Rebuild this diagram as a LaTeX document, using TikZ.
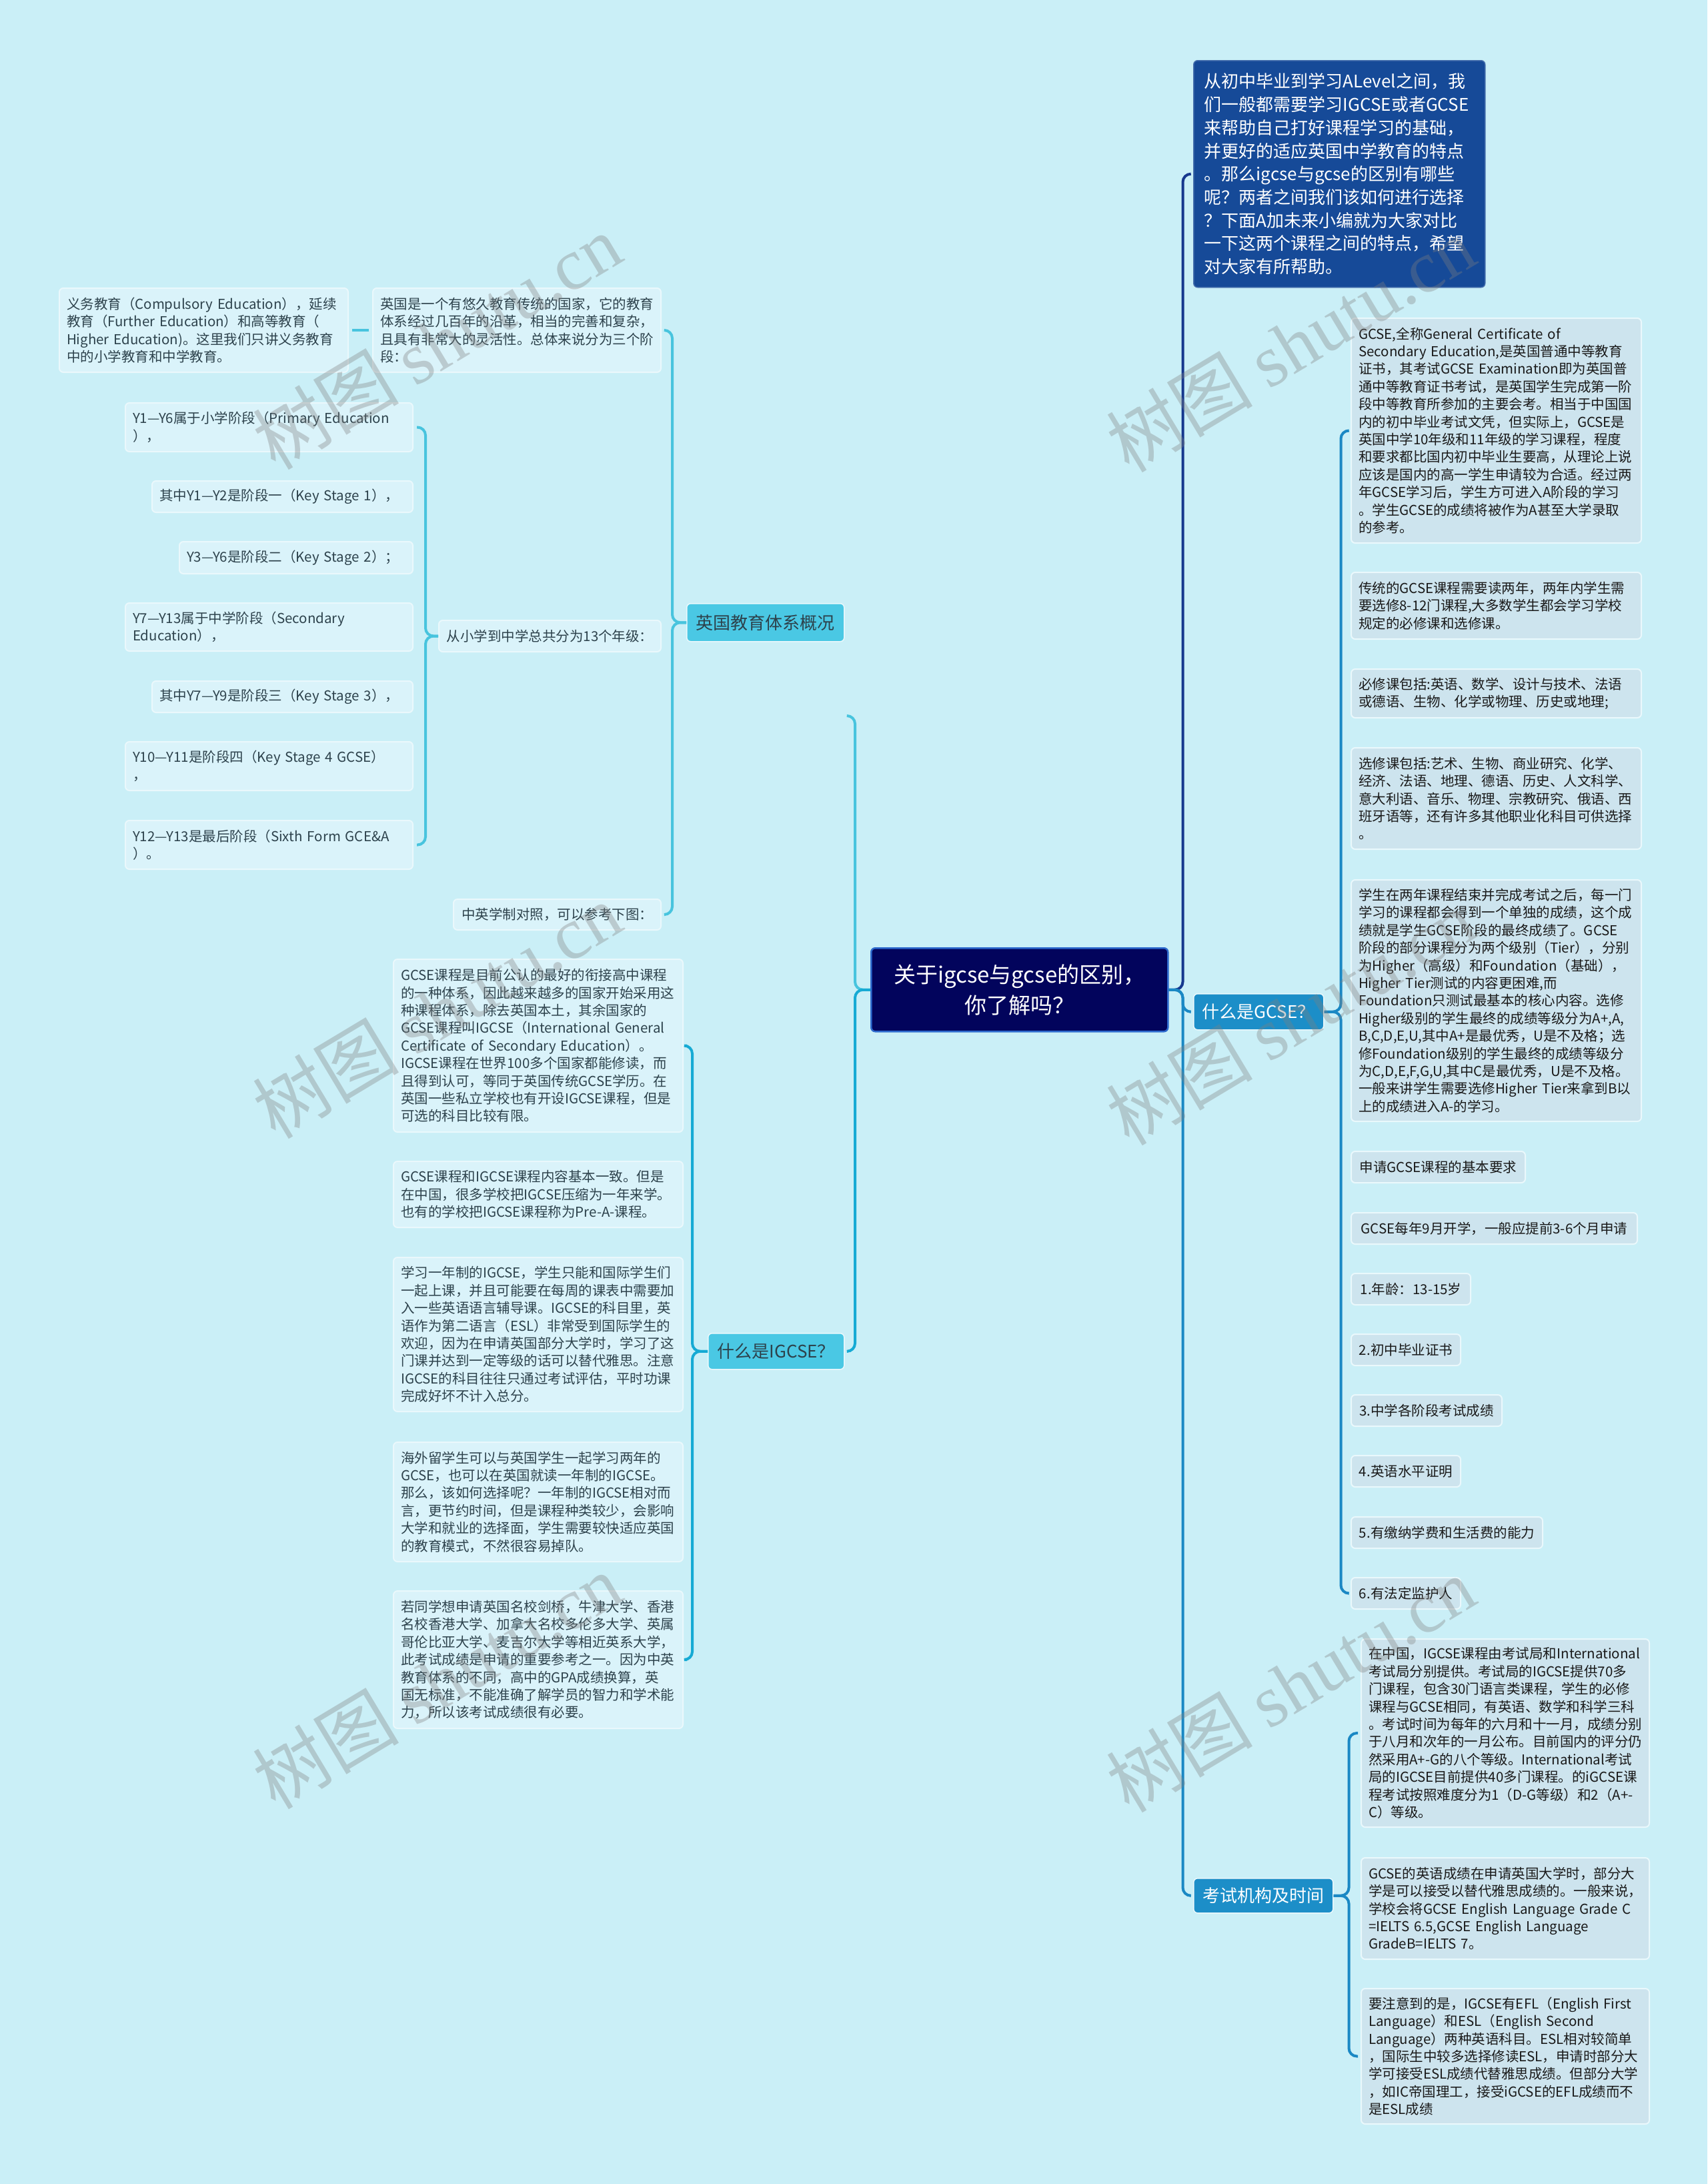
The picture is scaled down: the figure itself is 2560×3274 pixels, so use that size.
\documentclass[tikz,border=0pt]{standalone}
\usepackage{fontspec}
\setmainfont{Noto Sans CJK SC}
\newfontfamily\wmserif{Liberation Serif}
\usetikzlibrary{positioning}
\definecolor{bgcyan}{RGB}{202,239,247}
\definecolor{rootnavy}{RGB}{2,4,92}
\definecolor{rootedge}{RGB}{45,105,205}
\definecolor{introblue}{RGB}{22,74,152}
\definecolor{branchblue}{RGB}{28,142,200}
\definecolor{branchcyan}{RGB}{74,200,228}
\definecolor{leafRfill}{RGB}{205,228,238}
\definecolor{leafLfill}{RGB}{218,243,250}
\definecolor{leafedge}{RGB}{234,248,252}
\definecolor{leafLtext}{RGB}{45,66,76}
\definecolor{leafRtext}{RGB}{25,25,25}
\definecolor{lineNavy}{RGB}{22,56,142}
\definecolor{lineBlue}{RGB}{26,136,196}
\definecolor{lineCyan}{RGB}{72,196,222}
\definecolor{lineDeep}{RGB}{22,170,212}
\newcommand{\leaffont}{\fontsize{20.5pt}{26.4pt}\selectfont}

\begin{document}
\begin{tikzpicture}[x=1pt, y=-1pt,
  every node/.style={anchor=north west, rounded corners=6pt, inner xsep=11pt, inner ysep=0pt, align=left},
  leafL/.style={draw=leafedge, line width=2pt, fill=leafLfill, text=leafLtext, font=\leaffont},
  leafR/.style={draw=leafedge, line width=2pt, fill=leafRfill, text=leafRtext, font=\leaffont},
  branchL/.style={draw=leafedge, line width=1.5pt, fill=branchcyan, text=leafLtext, align=center, font=\fontsize{26pt}{32pt}\selectfont},
  branchR/.style={draw=leafedge, line width=1.5pt, fill=branchblue, text=white, align=center, font=\fontsize{26pt}{32pt}\selectfont},
  conn/.style={line width=4pt, rounded corners=12pt},
  wmark/.style={anchor=center, rotate=31, text=gray, opacity=0.35, inner sep=0pt, font=\fontsize{110pt}{110pt}\selectfont}]

  \fill[bgcyan] (0,0) rectangle (2560,3274);
  \useasboundingbox (0,0) rectangle (2560,3274);

  % root
  \node[draw=rootedge, line width=2.5pt, fill=rootnavy, text=white, align=center, minimum width=445pt, minimum height=125pt, font=\fontsize{33pt}{46pt}\selectfont] (root) at (1305,1420) {关于igcse与gcse的区别，\\你了解吗？};

  % right side
  \node[draw=introblue!80!white, line width=1.5pt, fill=introblue, text=white, inner xsep=16pt, text width=405pt, minimum height=340pt, font=\fontsize{26pt}{34.7pt}\selectfont] (intro) at (1789,90) {从初中毕业到学习ALevel之间，我\\们一般都需要学习IGCSE或者GCSE\\来帮助自己打好课程学习的基础，\\并更好的适应英国中学教育的特点\\。那么igcse与gcse的区别有哪些\\呢？两者之间我们该如何进行选择\\？下面A加未来小编就为大家对比\\一下这两个课程之间的特点，希望\\对大家有所帮助。};
  \node[branchR, minimum width=195pt, minimum height=54pt] (gcse) at (1789,1489) {什么是GCSE？};
  \node[branchR, minimum width=209pt, minimum height=52pt] (exam) at (1789,2815) {考试机构及时间};

  \node[leafR, text width=413pt, minimum height=337pt] (g1) at (2025,476) {GCSE,全称General Certificate of\\Secondary Education,是英国普通中等教育\\证书，其考试GCSE Examination即为英国普\\通中等教育证书考试，是英国学生完成第一阶\\段中等教育所参加的主要会考。相当于中国国\\内的初中毕业考试文凭，但实际上，GCSE是\\英国中学10年级和11年级的学习课程，程度\\和要求都比国内初中毕业生要高，从理论上说\\应该是国内的高一学生申请较为合适。经过两\\年GCSE学习后，学生方可进入A阶段的学习\\。学生GCSE的成绩将被作为A甚至大学录取\\的参考。};
  \node[leafR, text width=413pt, minimum height=100pt] (g2) at (2025,857) {传统的GCSE课程需要读两年，两年内学生需\\要选修8-12门课程,大多数学生都会学习学校\\规定的必修课和选修课。};
  \node[leafR, text width=413pt, minimum height=73pt] (g3) at (2025,1002) {必修课包括:英语、数学、设计与技术、法语\\或德语、生物、化学或物理、历史或地理;};
  \node[leafR, text width=413pt, minimum height=152pt] (g4) at (2025,1120) {选修课包括:艺术、生物、商业研究、化学、\\经济、法语、地理、德语、历史、人文科学、\\意大利语、音乐、物理、宗教研究、俄语、西\\班牙语等，还有许多其他职业化科目可供选择\\。};
  \node[leafR, text width=413pt, minimum height=362pt] (g5) at (2025,1318) {学生在两年课程结束并完成考试之后，每一门\\学习的课程都会得到一个单独的成绩，这个成\\绩就是学生GCSE阶段的最终成绩了。GCSE\\阶段的部分课程分为两个级别（Tier），分别\\为Higher（高级）和Foundation（基础），\\Higher Tier测试的内容更困难,而\\Foundation只测试最基本的核心内容。选修\\Higher级别的学生最终的成绩等级分为A+,A,\\B,C,D,E,U,其中A+是最优秀，U是不及格；选\\修Foundation级别的学生最终的成绩等级分\\为C,D,E,F,G,U,其中C是最优秀，U是不及格。\\一般来讲学生需要选修Higher Tier来拿到B以\\上的成绩进入A-的学习。};
  \node[leafR, minimum width=261pt, minimum height=47pt] (r0) at (2025,1725) {申请GCSE课程的基本要求};
  \node[leafR, minimum width=429pt, minimum height=47pt] (r1) at (2025,1817) {GCSE每年9月开学，一般应提前3-6个月申请};
  \node[leafR, minimum width=179pt, minimum height=47pt] (a1) at (2025,1908) {1.年龄：13-15岁};
  \node[leafR, minimum width=164pt, minimum height=47pt] (a2) at (2025,1999) {2.初中毕业证书};
  \node[leafR, minimum width=226pt, minimum height=47pt] (a3) at (2025,2090) {3.中学各阶段考试成绩};
  \node[leafR, minimum width=164pt, minimum height=47pt] (a4) at (2025,2181) {4.英语水平证明};
  \node[leafR, minimum width=287pt, minimum height=47pt] (a5) at (2025,2273) {5.有缴纳学费和生活费的能力};
  \node[leafR, minimum width=164pt, minimum height=47pt] (a6) at (2025,2364) {6.有法定监护人};

  \node[leafR, text width=410pt, minimum height=282pt] (e1) at (2040,2456) {在中国，IGCSE课程由考试局和International\\考试局分别提供。考试局的IGCSE提供70多\\门课程，包含30门语言类课程，学生的必修\\课程与GCSE相同，有英语、数学和科学三科\\。考试时间为每年的六月和十一月，成绩分别\\于八月和次年的一月公布。目前国内的评分仍\\然采用A+-G的八个等级。International考试\\局的IGCSE目前提供40多门课程。的iGCSE课\\程考试按照难度分为1（D-G等级）和2（A+-\\C）等级。};
  \node[leafR, text width=410pt, minimum height=152pt] (e2) at (2040,2784) {GCSE的英语成绩在申请英国大学时，部分大\\学是可以接受以替代雅思成绩的。一般来说，\\学校会将GCSE English Language Grade C\\=IELTS 6.5,GCSE English Language\\GradeB=IELTS 7。};
  \node[leafR, text width=410pt, minimum height=203pt] (e3) at (2040,2980) {要注意到的是，IGCSE有EFL（English First\\Language）和ESL（English Second\\Language）两种英语科目。ESL相对较简单\\，国际生中较多选择修读ESL，申请时部分大\\学可接受ESL成绩代替雅思成绩。但部分大学\\，如IC帝国理工，接受iGCSE的EFL成绩而不\\是ESL成绩};

  % left side
  \node[branchL, minimum width=236pt, minimum height=57pt] (uk) at (1029,904) {英国教育体系概况};
  \node[branchL, minimum width=204pt, minimum height=54pt] (igcse) at (1061,1998) {什么是IGCSE？};

  \node[leafL, text width=411pt, minimum height=126pt] (duty) at (88,431) {义务教育（Compulsory Education），延续\\教育（Further Education）和高等教育（\\Higher Education)。这里我们只讲义务教育\\中的小学教育和中学教育。};
  \node[leafL, text width=410pt, minimum height=126pt] (ukdesc) at (558,431) {英国是一个有悠久教育传统的国家，它的教育\\体系经过几百年的沿革，相当的完善和复杂，\\且具有非常大的灵活性。总体来说分为三个阶\\段：};
  \node[leafL, minimum width=333pt, minimum height=47pt] (grades) at (657,929) {从小学到中学总共分为13个年级：};
  \node[leafL, minimum width=311pt, minimum height=46pt] (compare) at (679,1347) {中英学制对照，可以参考下图：};

  \node[leafL, text width=409pt, minimum height=73pt] (y1) at (187,603) {Y1—Y6属于小学阶段（Primary Education\\），};
  \node[leafL, text width=369pt, minimum height=47pt] (y2) at (227,720) {其中Y1—Y2是阶段一（Key Stage 1），};
  \node[leafL, text width=328pt, minimum height=48pt] (y3) at (268,811) {Y3—Y6是阶段二（Key Stage 2）；};
  \node[leafL, text width=409pt, minimum height=72pt] (y4) at (187,903) {Y7—Y13属于中学阶段（Secondary\\Education），};
  \node[leafL, text width=369pt, minimum height=47pt] (y5) at (227,1020) {其中Y7—Y9是阶段三（Key Stage 3），};
  \node[leafL, text width=409pt, minimum height=73pt] (y6) at (187,1111) {Y10—Y11是阶段四（Key Stage 4 GCSE）\\，};
  \node[leafL, text width=409pt, minimum height=73pt] (y7) at (187,1229) {Y12—Y13是最后阶段（Sixth Form GCE\&A\\）。};

  \node[leafL, text width=412pt, minimum height=259pt] (ig1) at (589,1437) {GCSE课程是目前公认的最好的衔接高中课程\\的一种体系，因此越来越多的国家开始采用这\\种课程体系，除去英国本土，其余国家的\\GCSE课程叫IGCSE（International General\\Certificate of Secondary Education）。\\IGCSE课程在世界100多个国家都能修读，而\\且得到认可，等同于英国传统GCSE学历。在\\英国一些私立学校也有开设IGCSE课程，但是\\可选的科目比较有限。};
  \node[leafL, text width=412pt, minimum height=99pt] (ig2) at (589,1740) {GCSE课程和IGCSE课程内容基本一致。但是\\在中国，很多学校把IGCSE压缩为一年来学。\\也有的学校把IGCSE课程称为Pre-A-课程。};
  \node[leafL, text width=412pt, minimum height=231pt] (ig3) at (589,1884) {学习一年制的IGCSE，学生只能和国际学生们\\一起上课，并且可能要在每周的课表中需要加\\入一些英语语言辅导课。IGCSE的科目里，英\\语作为第二语言（ESL）非常受到国际学生的\\欢迎，因为在申请英国部分大学时，学习了这\\门课并达到一定等级的话可以替代雅思。注意\\IGCSE的科目往往只通过考试评估，平时功课\\完成好坏不计入总分。};
  \node[leafL, text width=412pt, minimum height=179pt] (ig4) at (589,2161) {海外留学生可以与英国学生一起学习两年的\\GCSE，也可以在英国就读一年制的IGCSE。\\那么，该如何选择呢？一年制的IGCSE相对而\\言，更节约时间，但是课程种类较少，会影响\\大学和就业的选择面，学生需要较快适应英国\\的教育模式，不然很容易掉队。};
  \node[leafL, text width=412pt, minimum height=206pt] (ig5) at (589,2384) {若同学想申请英国名校剑桥，牛津大学、香港\\名校香港大学、加拿大名校多伦多大学、英属\\哥伦比亚大学、麦吉尔大学等相近英系大学，\\此考试成绩是申请的重要参考之一。因为中英\\教育体系的不同，高中的GPA成绩换算，英\\国无标准，不能准确了解学员的智力和学术能\\力，所以该考试成绩很有必要。};

  % connectors
  \coordinate (ukfoot) at (1271,1073);
  \draw[conn, lineNavy] (root.east) -- ++(21,0) |- ([xshift=-5pt]intro.west);
  \draw[conn, lineBlue] (root.east) -- ++(21,0) |- ([xshift=-5pt]gcse.west);
  \draw[conn, lineBlue] (root.east) -- ++(21,0) |- ([xshift=-5pt]exam.west);
  \draw[conn, lineCyan] (root.west) -- ++(-23,0) |- (ukfoot);
  \draw[conn, lineDeep] (root.west) -- ++(-23,0) |- ([xshift=5pt]igcse.east);

  \draw[conn, lineBlue] (gcse.east) -- ++(25,0) |- ([xshift=-4pt]g1.west);
  \draw[conn, lineBlue] (gcse.east) -- ++(25,0) |- ([xshift=-4pt]a6.west);
  \draw[conn, lineBlue] (exam.east) -- ++(23,0) |- ([xshift=-4pt]e1.west);
  \draw[conn, lineBlue] (exam.east) -- ++(23,0) |- ([xshift=-4pt]e3.west);

  \draw[conn, lineCyan] (uk.west) -- ++(-21,0) |- ([xshift=5pt]ukdesc.east);
  \draw[conn, lineCyan] (uk.west) -- ++(-21,0) |- ([xshift=5pt]compare.east);
  \draw[conn, lineCyan] ([xshift=-5pt]ukdesc.west) -- ([xshift=5pt]duty.east);
  \draw[conn, lineCyan] (grades.west) -- ++(-19,0) |- ([xshift=5pt]y1.east);
  \draw[conn, lineCyan] (grades.west) -- ++(-19,0) |- ([xshift=5pt]y7.east);
  \draw[conn, lineDeep] (igcse.west) -- ++(-23,0) |- ([xshift=5pt]ig1.east);
  \draw[conn, lineDeep] (igcse.west) -- ++(-23,0) |- ([xshift=5pt]ig5.east);

  % watermarks
  \node[wmark] (wm1) at (655,512) {树图 {\wmserif shutu.cn}};
  \node[wmark] (wm2) at (655,1515) {树图 {\wmserif shutu.cn}};
  \node[wmark] (wm3) at (655,2520) {树图 {\wmserif shutu.cn}};
  \node[wmark] (wm4) at (1935,516) {树图 {\wmserif shutu.cn}};
  \node[wmark] (wm5) at (1935,1525) {树图 {\wmserif shutu.cn}};
  \node[wmark] (wm6) at (1935,2525) {树图 {\wmserif shutu.cn}};
\end{tikzpicture}
\end{document}
